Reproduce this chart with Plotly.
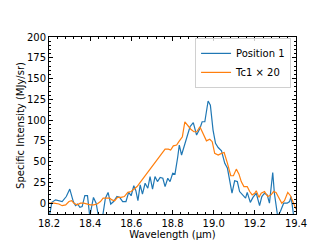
import plotly.graph_objects as go

# Position 1 spectrum
pos1_wave = [18.200, 18.214, 18.232, 18.248, 18.264, 18.284, 18.301, 18.318, 18.329, 18.339,
             18.350, 18.361, 18.374, 18.387, 18.398, 18.416, 18.429, 18.442, 18.458, 18.474,
             18.487, 18.500, 18.514, 18.530, 18.543, 18.558, 18.574, 18.587, 18.599, 18.612,
             18.622, 18.632, 18.643, 18.654, 18.667, 18.680, 18.691, 18.703, 18.715, 18.727,
             18.740, 18.753, 18.764, 18.777, 18.788, 18.801, 18.812, 18.825, 18.833, 18.844,
             18.856, 18.868, 18.885, 18.901, 18.917, 18.933, 18.944, 18.957, 18.973, 18.984,
             18.997, 19.009, 19.022, 19.038, 19.054, 19.067, 19.078, 19.089, 19.102, 19.115,
             19.126, 19.142, 19.155, 19.163, 19.178, 19.191, 19.207, 19.223, 19.234, 19.247,
             19.260, 19.271, 19.287, 19.295, 19.311, 19.324, 19.340, 19.357, 19.369, 19.376,
             19.389]
pos1_int = [-18, 1, 4, 3, 2, 8, 17, 2, -3, -1,
            -5, -4, 9, 9, -16, 7, 0, -18, -20, 6,
            13, -1, 2, 8, 7, 2, 2, 13, 9, 21,
            15, 3, 22, 11, 24, 18, 32, 17, 32, 26,
            31, 30, 20, 30, 26, 36, 35, 55, 70, 58,
            68, 77, 92, 97, 82, 90, 98, 98, 123, 118,
            88, 72, 67, 63, 48, 42, 26, 12, 27, 26,
            14, 10, 6, 13, 1, 7, 12, -3, 8, 12,
            10, 0, 37, 12, -16, -10, 0, 0, 2, 8,
            -16]

# Tc1 x 20 spectrum
tc1_wave = [18.200, 18.224, 18.248, 18.264, 18.281, 18.297, 18.310, 18.321, 18.337, 18.353,
            18.369, 18.385, 18.401, 18.417, 18.434, 18.450, 18.463, 18.479, 18.495, 18.506,
            18.519, 18.533, 18.550, 18.566, 18.583, 18.599, 18.616, 18.628, 18.643, 18.764,
            18.780, 18.791, 18.804, 18.820, 18.831, 18.848, 18.860, 18.873, 18.889, 18.904,
            18.918, 18.933, 18.949, 18.965, 18.981, 18.993, 19.005, 19.022, 19.038, 19.051,
            19.067, 19.083, 19.096, 19.110, 19.123, 19.134, 19.147, 19.163, 19.175, 19.187,
            19.199, 19.207, 19.220, 19.231, 19.247, 19.263, 19.279, 19.291, 19.303, 19.315,
            19.331, 19.344, 19.360, 19.373, 19.389, 19.400]
tc1_int = [0, 0, -1, -3, -2, 2, 3, 0, -2, 0,
           0, -1, -2, -2, -1, 2, 6, 6, 6, 4,
           3, 7, 7, 8, 13, 14, 18, 20, 25, 65,
           65, 64, 69, 70, 74, 80, 98, 94, 89, 86,
           86, 92, 83, 75, 77, 74, 60, 58, 60, 61,
           48, 33, 33, 41, 35, 26, 20, 20, 14, 10,
           12, 15, 7, 12, 14, 8, 10, 14, 13, 8,
           0, 3, 13, 9, 0, -7]

x_ticks = [18.2, 18.4, 18.6, 18.8, 19.0, 19.2, 19.4]
y_ticks = [0, 25, 50, 75, 100, 125, 150, 175, 200]

fig = go.Figure()
fig.add_trace(go.Scatter(x=pos1_wave, y=pos1_int, mode="lines", name="Position 1",
                         line=dict(color="#1f77b4", width=1.2)))
fig.add_trace(go.Scatter(x=tc1_wave, y=tc1_int, mode="lines", name="Tc1 × 20",
                         line=dict(color="#ff7f0e", width=1.2)))

axis_common = dict(showline=True, linecolor="black", linewidth=1, mirror="allticks",
                   ticks="inside", ticklen=4, tickcolor="black", showgrid=False,
                   zeroline=False, tickfont=dict(family="DejaVu Sans", size=10, color="black"))

fig.update_xaxes(range=[18.2, 19.4], tickvals=x_ticks, tickformat=".1f",
                 title=dict(text="Wavelength (μm)", font=dict(family="DejaVu Sans", size=10, color="black"),
                            standoff=0),
                 minor=dict(ticks="inside", dtick=0.04, ticklen=2, tickcolor="black"),
                 **axis_common)
fig.update_yaxes(range=[-13, 200], tickvals=y_ticks,
                 title=dict(text="Specific Intensity (MJy/sr)", font=dict(family="DejaVu Sans", size=10, color="black"),
                            standoff=0),
                 minor=dict(ticks="inside", dtick=5, ticklen=2, tickcolor="black"),
                 **axis_common)

fig.update_layout(width=320, height=240, margin=dict(l=40, r=32, t=29, b=28),
                  plot_bgcolor="white", paper_bgcolor="white",
                  showlegend=True,
                  legend=dict(x=0.98, y=0.995, xanchor="right", yanchor="top",
                              bgcolor="rgba(255,255,255,0.8)", bordercolor="#d0d0d0", borderwidth=1,
                              font=dict(family="DejaVu Sans", size=10, color="black"),
                              itemwidth=30, tracegroupgap=0))

fig.write_html("out.html")
